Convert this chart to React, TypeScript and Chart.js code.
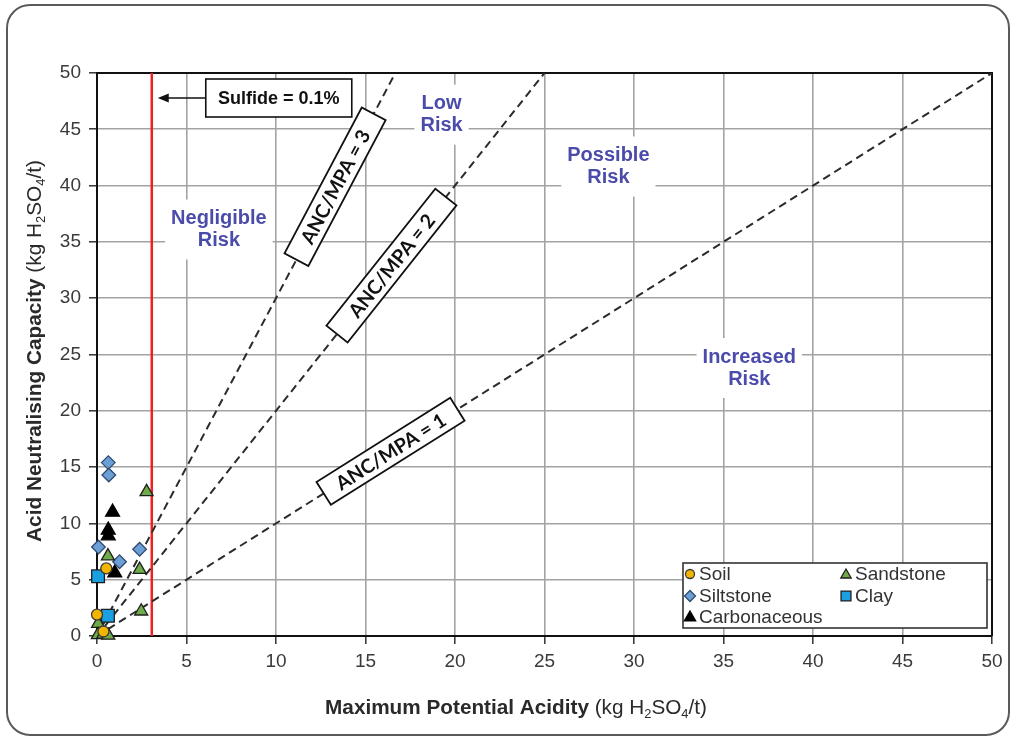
import React, { useEffect, useRef } from "react";
import { Chart, registerables } from "chart.js";

Chart.register(...registerables);

// ---------- data ----------
const AXIS_MIN = 0;
const AXIS_MAX = 50;
const TICK_STEP = 5;

const soilPoints = [
  { x: 0.52, y: 6.0 },
  { x: 0.0, y: 1.9 },
  { x: 0.36, y: 0.4 },
];
const sandstonePoints = [
  { x: 2.77, y: 12.8 },
  { x: 0.61, y: 7.1 },
  { x: 2.38, y: 5.9 },
  { x: 2.47, y: 2.2 },
  { x: 0.06, y: 1.1 },
  { x: 0.05, y: 0.1 },
  { x: 0.35, y: 0.15 },
  { x: 0.63, y: 0.05 },
];
const siltstonePoints = [
  { x: 0.63, y: 15.4 },
  { x: 0.66, y: 14.3 },
  { x: 0.08, y: 7.9 },
  { x: 1.26, y: 6.6 },
  { x: 2.38, y: 7.7 },
];
const clayPoints = [
  { x: 0.06, y: 5.3 },
  { x: 0.61, y: 1.8 },
];
const carbonaceousPoints = [
  { x: 0.87, y: 11.0 },
  { x: 0.63, y: 9.4 },
  { x: 0.63, y: 8.9 },
  { x: 0.99, y: 5.6 },
];

const ratioValues = [1, 2, 3];
const ratioLabels = ["ANC/MPA = 1", "ANC/MPA = 2", "ANC/MPA = 3"];
const ratioLabelX = [16.4, 16.45, 13.3];
const ratioBoxLength = [158, 175, 165];

const sulfideMPA = 3.06;
const sulfideLabel = "Sulfide = 0.1%";

const regionLabels = [
  ["Negligible", "Risk"],
  ["Low", "Risk"],
  ["Possible", "Risk"],
  ["Increased", "Risk"],
];
const regionLabelX = [6.81, 19.25, 28.57, 36.44];
const regionLabelY = [36.1, 46.3, 41.7, 23.8];

// ---------- styles ----------
const FONT = "'Liberation Sans', Arial, Helvetica, sans-serif";
const LABEL_FONT = "Lato, 'Open Sans', 'Liberation Sans', sans-serif";
const LABEL_BLUE = "#4a4bab";

type Shape = "circle" | "triangle" | "diamond" | "square";
interface SeriesStyle {
  name: string;
  data: { x: number; y: number }[];
  shape: Shape;
  fill: string;
  stroke: string;
  r: number;
  legendR: number;
}

const series: SeriesStyle[] = [
  { name: "Soil", data: soilPoints, shape: "circle", fill: "#f2b600", stroke: "#3a3a3a", r: 5.5, legendR: 4.5 },
  { name: "Sandstone", data: sandstonePoints, shape: "triangle", fill: "#6fab48", stroke: "#1f1f1f", r: 7.5, legendR: 6 },
  { name: "Siltstone", data: siltstonePoints, shape: "diamond", fill: "#6b9fd6", stroke: "#2f4a70", r: 6.8, legendR: 5.5 },
  { name: "Clay", data: clayPoints, shape: "square", fill: "#1a9fe0", stroke: "#1f1f1f", r: 9, legendR: 7 },
  { name: "Carbonaceous", data: carbonaceousPoints, shape: "triangle", fill: "#000000", stroke: "#000000", r: 8, legendR: 6.5 },
];
const legendOrder = ["Soil", "Sandstone", "Siltstone", "Clay", "Carbonaceous"];

const chartJsStyle: Record<Shape, string> = {
  circle: "circle",
  triangle: "triangle",
  diamond: "rectRot",
  square: "rect",
};

function drawMarker(ctx: CanvasRenderingContext2D, s: SeriesStyle, x: number, y: number, r: number) {
  ctx.save();
  ctx.beginPath();
  if (s.shape === "circle") {
    ctx.arc(x, y, r, 0, Math.PI * 2);
  } else if (s.shape === "triangle") {
    for (let i = 0; i < 3; i++) {
      const a = (i * 2 * Math.PI) / 3;
      const px = x + Math.sin(a) * r;
      const py = y - Math.cos(a) * r;
      if (i === 0) ctx.moveTo(px, py);
      else ctx.lineTo(px, py);
    }
    ctx.closePath();
  } else if (s.shape === "diamond") {
    ctx.moveTo(x - r, y);
    ctx.lineTo(x, y - r);
    ctx.lineTo(x + r, y);
    ctx.lineTo(x, y + r);
    ctx.closePath();
  } else {
    const h = r * Math.SQRT1_2;
    ctx.rect(x - h, y - h, 2 * h, 2 * h);
  }
  ctx.fillStyle = s.fill;
  ctx.fill();
  ctx.lineWidth = 1.3;
  ctx.strokeStyle = s.stroke;
  ctx.stroke();
  ctx.restore();
}

interface Seg {
  t: string;
  bold?: boolean;
  sub?: boolean;
}

function segFont(seg: Seg, size: number) {
  const sz = seg.sub ? size * 0.62 : size;
  return `${seg.bold ? "bold " : ""}${sz}px ${FONT}`;
}

function richWidth(ctx: CanvasRenderingContext2D, segs: Seg[], size: number) {
  let w = 0;
  for (const s of segs) {
    ctx.font = segFont(s, size);
    w += ctx.measureText(s.t).width;
  }
  return w;
}

function drawRich(ctx: CanvasRenderingContext2D, segs: Seg[], cx: number, cy: number, targetWidth: number) {
  const base = 18;
  const w0 = richWidth(ctx, segs, base);
  const size = Math.max(14, Math.min(22, (base * targetWidth) / w0));
  const total = richWidth(ctx, segs, size);
  let x = cx - total / 2;
  ctx.textBaseline = "middle";
  ctx.textAlign = "left";
  for (const s of segs) {
    ctx.font = segFont(s, size);
    ctx.fillText(s.t, x, cy + (s.sub ? size * 0.3 : 0));
    x += ctx.measureText(s.t).width;
  }
}

const xTitle: Seg[] = [
  { t: "Maximum Potential Acidity ", bold: true },
  { t: "(kg H" },
  { t: "2", sub: true },
  { t: "SO" },
  { t: "4", sub: true },
  { t: "/t)" },
];
const yTitle: Seg[] = [
  { t: "Acid Neutralising Capacity ", bold: true },
  { t: "(kg H" },
  { t: "2", sub: true },
  { t: "SO" },
  { t: "4", sub: true },
  { t: "/t)" },
];

const overlayPlugin = {
  id: "overlay",
  beforeDatasetsDraw(chart: any) {
    const { ctx, chartArea: a, scales } = chart;
    const xs = scales.x;
    const ys = scales.y;
    ctx.save();
    // top & right frame
    ctx.strokeStyle = "#111";
    ctx.lineWidth = 2;
    ctx.beginPath();
    ctx.moveTo(a.left, a.top);
    ctx.lineTo(a.right, a.top);
    ctx.lineTo(a.right, a.bottom);
    ctx.stroke();

    // region labels with white backgrounds
    ctx.font = `bold 20px ${FONT}`;
    const lh = 22;
    regionLabels.forEach((lines, i) => {
      const cx = xs.getPixelForValue(regionLabelX[i]);
      const cy = ys.getPixelForValue(regionLabelY[i]);
      const maxW = Math.max(...lines.map((l) => ctx.measureText(l).width));
      const h = lines.length * lh + 16;
      ctx.fillStyle = "#fff";
      ctx.fillRect(cx - maxW / 2 - 6, cy - h / 2, maxW + 12, h);
      ctx.fillStyle = LABEL_BLUE;
      ctx.textAlign = "center";
      ctx.textBaseline = "middle";
      lines.forEach((l, j) => {
        ctx.fillText(l, cx, cy + (j - (lines.length - 1) / 2) * lh);
      });
    });
    ctx.restore();
  },
  afterDatasetsDraw(chart: any) {
    const { ctx, chartArea: a, scales } = chart;
    const xs = scales.x;
    const ys = scales.y;
    ctx.save();

    // ANC/MPA boxes
    ratioValues.forEach((r, i) => {
      const cx = xs.getPixelForValue(ratioLabelX[i]);
      const cy = ys.getPixelForValue(ratioLabelX[i] * r);
      const dx = xs.getPixelForValue(10) - xs.getPixelForValue(0);
      const dy = ys.getPixelForValue(10 * r) - ys.getPixelForValue(0);
      const ang = Math.atan2(dy, dx);
      const len = ratioBoxLength[i];
      const bh = 27;
      ctx.save();
      ctx.translate(cx, cy);
      ctx.rotate(ang);
      ctx.fillStyle = "#fff";
      ctx.fillRect(-len / 2, -bh / 2, len, bh);
      ctx.strokeStyle = "#111";
      ctx.lineWidth = 1.8;
      ctx.strokeRect(-len / 2, -bh / 2, len, bh);
      ctx.font = `bold 20px ${LABEL_FONT}`;
      const tw = ctx.measureText(ratioLabels[i]).width;
      const size = Math.max(15, Math.min(22, (20 * 126) / tw));
      ctx.font = `bold ${size}px ${LABEL_FONT}`;
      ctx.fillStyle = "#111";
      ctx.textAlign = "center";
      ctx.textBaseline = "middle";
      ctx.fillText(ratioLabels[i], 0, 1);
      ctx.restore();
    });

    // Sulfide label with arrow
    const redX = xs.getPixelForValue(sulfideMPA);
    const boxL = redX + 54;
    const boxW = 146;
    const boxH = 38;
    const boxCy = a.top + 25;
    ctx.fillStyle = "#fff";
    ctx.fillRect(boxL, boxCy - boxH / 2, boxW, boxH);
    ctx.strokeStyle = "#111";
    ctx.lineWidth = 1.6;
    ctx.strokeRect(boxL, boxCy - boxH / 2, boxW, boxH);
    ctx.font = `bold 18px ${FONT}`;
    ctx.fillStyle = "#111";
    ctx.textAlign = "center";
    ctx.textBaseline = "middle";
    ctx.fillText(sulfideLabel, boxL + boxW / 2, boxCy + 1);
    const tipX = redX + 6;
    ctx.beginPath();
    ctx.moveTo(boxL, boxCy);
    ctx.lineTo(tipX + 8, boxCy);
    ctx.lineWidth = 1.4;
    ctx.stroke();
    ctx.beginPath();
    ctx.moveTo(tipX, boxCy);
    ctx.lineTo(tipX + 11, boxCy - 4.5);
    ctx.lineTo(tipX + 11, boxCy + 4.5);
    ctx.closePath();
    ctx.fill();

    // Legend
    const lw = 304;
    const lhh = 65;
    const lr = a.right - 5;
    const lb = a.bottom - 8;
    const ll = lr - lw;
    const lt = lb - lhh;
    ctx.fillStyle = "#fff";
    ctx.fillRect(ll, lt, lw, lhh);
    ctx.strokeStyle = "#333";
    ctx.lineWidth = 1.6;
    ctx.strokeRect(ll, lt, lw, lhh);
    const rowsY = [11, 33, 53.5];
    const colMarker = [7, 163];
    const colText = [16, 172];
    ctx.font = `19px ${FONT}`;
    ctx.textAlign = "left";
    ctx.textBaseline = "middle";
    legendOrder.forEach((name, k) => {
      const s = series.find((q) => q.name === name)!;
      const col = k % 2;
      const row = Math.floor(k / 2);
      const my = lt + rowsY[row];
      drawMarker(ctx, s, ll + colMarker[col], my + (s.shape === "triangle" ? 1 : 0), s.legendR);
      ctx.fillStyle = "#333";
      ctx.fillText(name, ll + colText[col], my + 1);
    });

    ctx.restore();
  },
  afterDraw(chart: any) {
    const { ctx } = chart;
    ctx.save();
    ctx.fillStyle = "#2a2a2a";
    drawRich(ctx, xTitle, 516, 708, 382);
    ctx.translate(35, 351);
    ctx.rotate(-Math.PI / 2);
    drawRich(ctx, yTitle, 0, 0, 382);
    ctx.restore();
  },
};

function buildConfig(): any {
  const scatterSets = series.map((s) => ({
    label: s.name,
    data: s.data,
    showLine: false,
    pointStyle: chartJsStyle[s.shape],
    pointRadius: s.r,
    pointHoverRadius: s.r,
    pointBackgroundColor: s.fill,
    pointBorderColor: s.stroke,
    pointBorderWidth: 1.3,
    backgroundColor: s.fill,
    borderColor: s.stroke,
    clip: false,
  }));
  const ratioSets = ratioValues.map((r) => ({
    label: `ratio ${r}`,
    data: [
      { x: AXIS_MIN, y: AXIS_MIN },
      { x: AXIS_MAX / r, y: AXIS_MAX },
    ],
    showLine: true,
    pointRadius: 0,
    borderColor: "#2b2b2b",
    borderWidth: 2,
    borderDash: [8, 5],
    fill: false,
  }));
  const sulfideSet = {
    label: "sulfide",
    data: [
      { x: sulfideMPA, y: AXIS_MIN },
      { x: sulfideMPA, y: AXIS_MAX },
    ],
    showLine: true,
    pointRadius: 0,
    borderColor: "#ee2020",
    borderWidth: 2.5,
    fill: false,
  };

  const tickFont = { family: FONT, size: 19 };
  const grid = {
    color: "#a3a3a3",
    lineWidth: 1.6,
    drawTicks: true,
    tickLength: 8,
    tickColor: "#333",
    tickWidth: 1.5,
  };

  return {
    type: "scatter",
    data: { datasets: [...scatterSets, ...ratioSets, sulfideSet] },
    options: {
      animation: false,
      responsive: false,
      devicePixelRatio: 1,
      events: [],
      layout: { padding: { top: 73, right: 20, left: 0, bottom: 0 } },
      plugins: { legend: { display: false }, tooltip: { enabled: false } },
      scales: {
        x: {
          type: "linear",
          min: AXIS_MIN,
          max: AXIS_MAX,
          ticks: { stepSize: TICK_STEP, font: tickFont, color: "#3a3a3a", padding: 6, maxRotation: 0 },
          grid,
          border: { display: true, color: "#111", width: 2 },
          afterFit: (s: any) => {
            s.height = 102;
          },
        },
        y: {
          type: "linear",
          min: AXIS_MIN,
          max: AXIS_MAX,
          ticks: { stepSize: TICK_STEP, font: tickFont, color: "#3a3a3a", padding: 8 },
          grid,
          border: { display: true, color: "#111", width: 2 },
          afterFit: (s: any) => {
            s.width = 97;
          },
        },
      },
    },
    plugins: [overlayPlugin],
  };
}

export default function App() {
  const ref = useRef<HTMLCanvasElement>(null);
  useEffect(() => {
    const canvas = ref.current;
    if (!canvas) return;
    const chart = new Chart(canvas, buildConfig());
    return () => chart.destroy();
  }, []);
  return (
    <div
      style={{
        position: "fixed",
        left: 0,
        top: 0,
        width: 1012,
        height: 738,
        background: "#fff",
        overflow: "hidden",
      }}
    >
      <canvas
        ref={ref}
        width={1012}
        height={738}
        style={{ position: "absolute", left: 0, top: 0, width: 1012, height: 738 }}
      />
      <div
        style={{
          position: "absolute",
          left: 6,
          top: 4,
          width: 1004,
          height: 732,
          boxSizing: "border-box",
          border: "2px solid #5a5a5a",
          borderRadius: 24,
          pointerEvents: "none",
        }}
      />
    </div>
  );
}
